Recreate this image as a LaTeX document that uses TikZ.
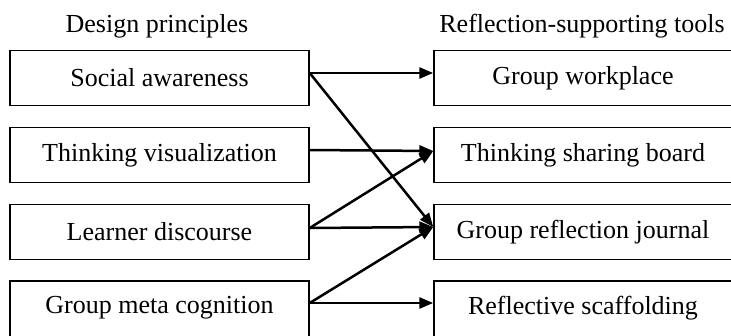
\documentclass[tikz,border=0pt]{standalone}
\usepackage{fontspec}
\setmainfont{Liberation Serif}
\usetikzlibrary{arrows.meta}
\begin{document}
\begin{tikzpicture}[x=1pt,y=-1pt,
  box/.style={draw=black, line width=1.4pt, rectangle, minimum height=55pt, inner sep=0pt, font=\fontsize{26}{31}\selectfont},
  lbox/.style={box, minimum width=299pt},
  rbox/.style={box, minimum width=312pt, execute at end node={\hspace{14pt}}},
  title/.style={font=\fontsize{26}{31}\selectfont, inner sep=0pt},
  conn/.style={line width=2.5pt, -{Triangle[length=14pt,width=11pt]}}]
\clip (0,0) rectangle (731,335);
\fill[white] (0,0) rectangle (731,335);
\node[title] (t1) at (157,26) {Design principles};
\node[title] (t2) at (582,26) {Reflection-supporting tools};
\node[lbox] (sa) at (159.5,78) {Social awareness};
\node[lbox] (tv) at (159.5,155) {Thinking visualization};
\node[lbox] (ld) at (159.5,232) {Learner discourse};
\node[lbox, minimum height=62pt] (gm) at (159.5,312) {\raisebox{14pt}{Group meta cognition}};
\node[rbox] (gw) at (590,78) {Group workplace};
\node[rbox] (ts) at (590,155) {Thinking sharing board};
\node[rbox] (gr) at (590,232) {Group reflection journal};
\node[rbox, minimum height=62pt] (rs) at (590,312) {\raisebox{14pt}{Reflective scaffolding}};
\coordinate (sao) at ([yshift=5pt]sa.east);
\coordinate (tvo) at ([yshift=5pt]tv.east);
\coordinate (ldo) at ([yshift=4pt]ld.east);
\coordinate (gmo) at ([yshift=9pt]gm.east);
\coordinate (gwi) at ([yshift=5pt]gw.west);
\coordinate (tsi) at ([yshift=4pt]ts.west);
\coordinate (gri) at ([yshift=5pt]gr.west);
\coordinate (rsi) at ([yshift=9pt]rs.west);
\draw[conn] (sao) -- (gwi);
\draw[conn] (sao) -- (gri);
\draw[conn] (tvo) -- (tsi);
\draw[conn] (ldo) -- (tsi);
\draw[conn] (ldo) -- (gri);
\draw[conn] (gmo) -- (gri);
\draw[conn] (gmo) -- (rsi);
\end{tikzpicture}
\end{document}
